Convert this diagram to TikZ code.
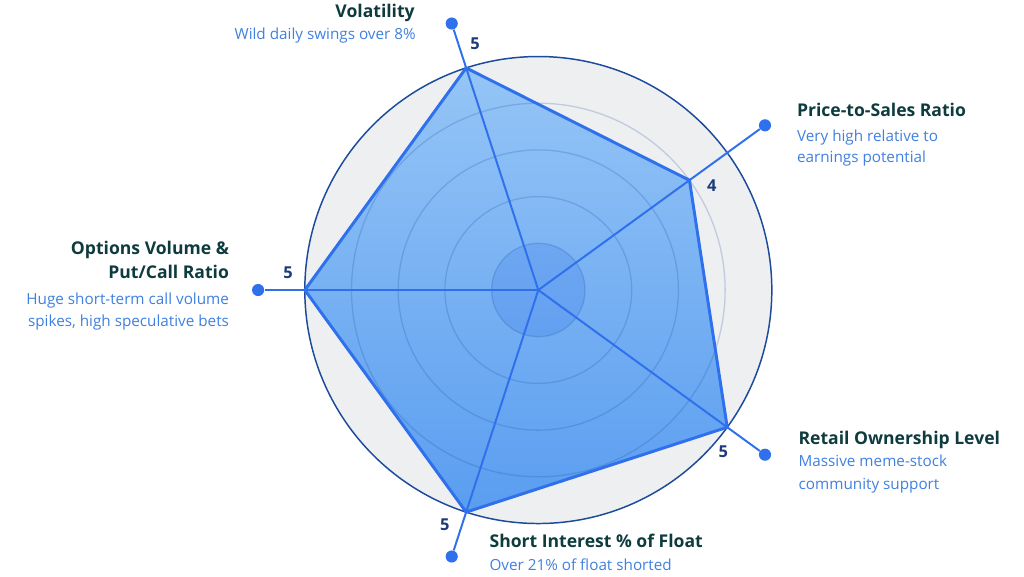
\documentclass[tikz,border=0pt]{standalone}
\usepackage{fontspec}
\setmainfont{Open Sans}
\usetikzlibrary{positioning}

\definecolor{titleink}{HTML}{0E3B3E}
\definecolor{subblue}{HTML}{3F80E0}
\definecolor{valink}{HTML}{1E3A78}
\definecolor{axisblue}{HTML}{2F70EC}
\definecolor{ringblue}{HTML}{1D4B9B}
\definecolor{diskgray}{HTML}{EEEFF1}
\definecolor{polytop}{HTML}{95C5F6}
\definecolor{polybot}{HTML}{5A9DF0}
\definecolor{gridblue}{HTML}{1F4FA0}

\begin{document}
\begin{tikzpicture}
      [%%%%%%%%%%%%%%%%%%%%%%%%%%%%%%
      grid/.style={draw=gridblue,draw opacity=0.22,line width=0.8pt},
      spoke/.style={draw=axisblue,line width=1.2pt},
      edge/.style={draw=axisblue,line width=1.8pt,line join=round},
      dot/.style={circle,fill=axisblue,inner sep=0pt,minimum size=0.26cm},
      ttl/.style={font=\fontsize{10.7}{13}\selectfont\bfseries,text=titleink,inner sep=0pt},
      sub/.style={font=\fontsize{9.3}{12}\selectfont,text=subblue,inner sep=0pt},
      val/.style={font=\fontsize{10}{12}\selectfont\bfseries,text=valink,inner sep=0pt},
      ]%%%%%%%%%%%%%%%%%%%%%%%%%%%%%%
      \useasboundingbox (-11.527,-6.124) rectangle (10.40,6.21);
      \coordinate (c) at (0,0);

      % background disk
      \fill[diskgray] (c) circle (5);

      % scores
      \coordinate (volV) at (108:5);
      \coordinate (psV) at (36:4);
      \coordinate (retV) at (-36:5);
      \coordinate (shortV) at (-108:5);
      \coordinate (optV) at (180:5);
      \shade[top color=polytop,bottom color=polybot] (volV) -- (psV) -- (retV) -- (shortV) -- (optV) -- cycle;

      % rings
      \fill[axisblue,fill opacity=0.2] (c) circle (1);
      \draw[grid] (c) circle (1);
      \draw[grid] (c) circle (2);
      \draw[grid] (c) circle (3);
      \draw[grid] (c) circle (4);
      \draw[ringblue,line width=0.9pt] (c) circle (5);

      % axis ends
      \node[dot] (volDot) at (108:6) {};
      \node[dot] (psDot) at (36:6) {};
      \node[dot] (retDot) at (-36:6) {};
      \node[dot] (shortDot) at (-108:6) {};
      \node[dot] (optDot) at (180:6) {};
      \draw[spoke] (c) -- (volDot);
      \draw[spoke] (c) -- (psDot);
      \draw[spoke] (c) -- (retDot);
      \draw[spoke] (c) -- (shortDot);
      \draw[spoke] (c) -- (optDot);

      \draw[edge] (volV) -- (psV) -- (retV) -- (shortV) -- (optV) -- cycle;

      % values
      \node[val] (volN) at (-1.356,5.268) {5};
      \node[val] (psN) at (3.713,2.227) {4};
      \node[val] (retN) at (3.96,-3.46) {5};
      \node[val] (shortN) at (-2.0,-5.03) {5};
      \node[val] (optN) at (-5.36,0.364) {5};

      % labels
      \node[ttl,anchor=base east] (volT) at (-2.64,5.846) {Volatility};
      \node[sub,anchor=base east] (volS) at (-2.62,5.375) {Wild daily swings over 8\%};

      \node[ttl,anchor=base west] (psT) at (5.533,3.711) {Price-to-Sales Ratio};
      \node[sub,anchor=base west] (psS1) at (5.533,3.19) {Very high relative to};
      \node[sub,anchor=base west] (psS2) at (5.533,2.726) {earnings potential};

      \node[ttl,anchor=base east] (optT1) at (-6.617,0.764) {Options Volume \&};
      \node[ttl,anchor=base east] (optT2) at (-6.617,0.25) {Put/Call Ratio};
      \node[sub,anchor=base east] (optS1) at (-6.617,-0.307) {Huge short-term call volume};
      \node[sub,anchor=base east] (optS2) at (-6.617,-0.771) {spikes, high speculative bets};

      \node[ttl,anchor=base west] (retT) at (5.567,-3.305) {Retail Ownership Level};
      \node[sub,anchor=base west] (retS1) at (5.567,-3.78) {Massive meme-stock};
      \node[sub,anchor=base west] (retS2) at (5.567,-4.28) {community support};

      \node[ttl,anchor=base west] (shortT) at (-1.05,-5.518) {Short Interest \% of Float};
      \node[sub,anchor=base west] (shortS) at (-1.05,-6.01) {Over 21\% of float shorted};
    \end{tikzpicture}
\end{document}
